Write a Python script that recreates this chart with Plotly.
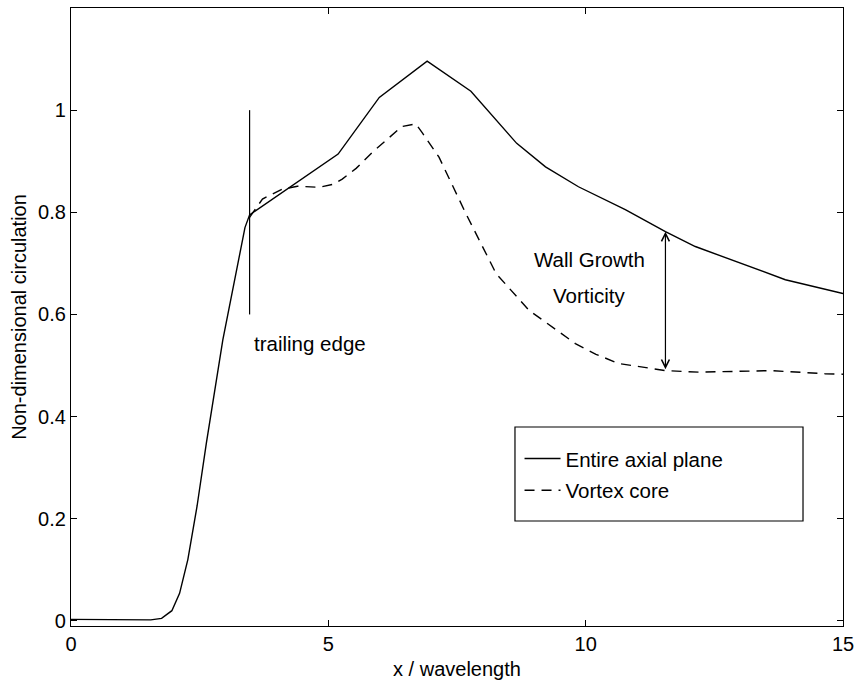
import numpy as np
import plotly.graph_objects as go

# Circulation over the whole axial plane
x_entire = [0.0, 1.0, 1.55, 1.76, 1.96, 2.11, 2.27, 2.45, 2.63, 2.95, 3.2, 3.38, 3.47,
            5.19, 5.99, 6.92, 7.77, 8.66, 9.22, 9.86, 10.77, 11.55, 12.13, 12.97, 13.88, 15.0]
y_entire = [0.003, 0.002, 0.002, 0.005, 0.02, 0.054, 0.12, 0.225, 0.348, 0.55, 0.68, 0.77, 0.795,
            0.914, 1.025, 1.096, 1.037, 0.935, 0.889, 0.85, 0.805, 0.762, 0.733, 0.702, 0.668, 0.641]

# Circulation inside the vortex core (downstream of the trailing edge)
x_core = [3.47, 3.72, 4.1, 4.4, 4.83, 5.1, 5.27, 5.54, 5.86, 6.18, 6.43, 6.7, 6.83, 7.15,
          7.67, 8.26, 8.9, 9.8, 10.2, 10.64, 11.55, 12.2, 13.1, 13.6, 14.65, 15.0]
y_core = [0.79, 0.826, 0.845, 0.851, 0.849, 0.855, 0.865, 0.886, 0.918, 0.947, 0.968, 0.973, 0.955, 0.908,
          0.798, 0.68, 0.608, 0.543, 0.522, 0.504, 0.49, 0.487, 0.488, 0.49, 0.484, 0.483]

x_ticks = [0, 5, 10, 15]
x_tick_labels = ["0", "5", "10", "15"]
y_ticks = [0, 0.2, 0.4, 0.6, 0.8, 1.0]
y_tick_labels = ["0", "0.2", "0.4", "0.6", "0.8", "1"]

trailing_edge_x = 3.47
trailing_edge_span = [0.6, 1.0]
wall_growth_x = 11.55

FONT = "Liberation Sans, Arial, Helvetica, sans-serif"

fig = go.Figure()
fig.add_trace(go.Scatter(x=x_entire, y=y_entire, mode="lines", name="Entire axial plane",
                         legendgroup="entire",
                         line=dict(color="black", width=1.4)))
fig.add_trace(go.Scatter(x=x_core, y=y_core, mode="lines", name="Vortex core",
                         legendgroup="core",
                         line=dict(color="black", width=1.4, dash="10px,7px")))

# trailing edge marker
fig.add_shape(type="line", xref="x", yref="y",
              x0=trailing_edge_x, x1=trailing_edge_x,
              y0=trailing_edge_span[0], y1=trailing_edge_span[1],
              line=dict(color="black", width=1.2))
fig.add_annotation(x=trailing_edge_x + 0.04, y=0.543, text="trailing edge", showarrow=False,
                   xanchor="left", yanchor="middle", font=dict(size=20.5))

# double arrow between the two curves
top = float(np.interp(wall_growth_x, x_entire, y_entire))
bottom = float(np.interp(wall_growth_x, x_core, y_core))
fig.add_annotation(x=wall_growth_x, y=top, ax=wall_growth_x, ay=bottom,
                   xref="x", yref="y", axref="x", ayref="y", text="",
                   showarrow=True, arrowside="end+start",
                   arrowhead=5, startarrowhead=5, arrowsize=1.3, startarrowsize=1.3,
                   arrowwidth=1.2, arrowcolor="black", standoff=0, startstandoff=0)
fig.add_annotation(x=10.07, y=0.708, text="Wall Growth", showarrow=False,
                   xanchor="center", yanchor="middle", font=dict(size=20.5))
fig.add_annotation(x=10.07, y=0.637, text="Vorticity", showarrow=False,
                   xanchor="center", yanchor="middle", font=dict(size=20.5))

# legend frame
fig.add_shape(type="rect", xref="paper", yref="paper",
              x0=0.5751, x1=0.9482, y0=0.1699, y1=0.322,
              line=dict(color="black", width=1.2), fillcolor="white", layer="below")

axis_common = dict(showline=True, linecolor="black", linewidth=1.2, mirror="allticks",
                   ticks="inside", ticklen=6, tickwidth=1.2, tickcolor="black",
                   showgrid=False, zeroline=False,
                   tickfont=dict(size=20, color="black"))

fig.update_layout(
    width=861, height=684,
    margin=dict(l=71, r=18, t=8, b=58),
    paper_bgcolor="white", plot_bgcolor="rgba(0,0,0,0)",
    font=dict(family=FONT, color="black", size=20),
    showlegend=True,
    legend=dict(x=0.581, y=0.303, xanchor="left", yanchor="top",
                bgcolor="rgba(0,0,0,0)", borderwidth=0, itemwidth=36,
                font=dict(size=20.5), tracegroupgap=2),
    xaxis=dict(range=[0, 15], tickvals=x_ticks, ticktext=x_tick_labels,
               title=dict(text="x / wavelength", standoff=7, font=dict(size=20)),
               automargin=False, **axis_common),
    yaxis=dict(range=[-0.01, 1.2], tickvals=y_ticks, ticktext=y_tick_labels,
               title=dict(text="Non-dimensional circulation", standoff=6, font=dict(size=20)),
               automargin=False, **axis_common),
)

fig.write_html("out.html")
